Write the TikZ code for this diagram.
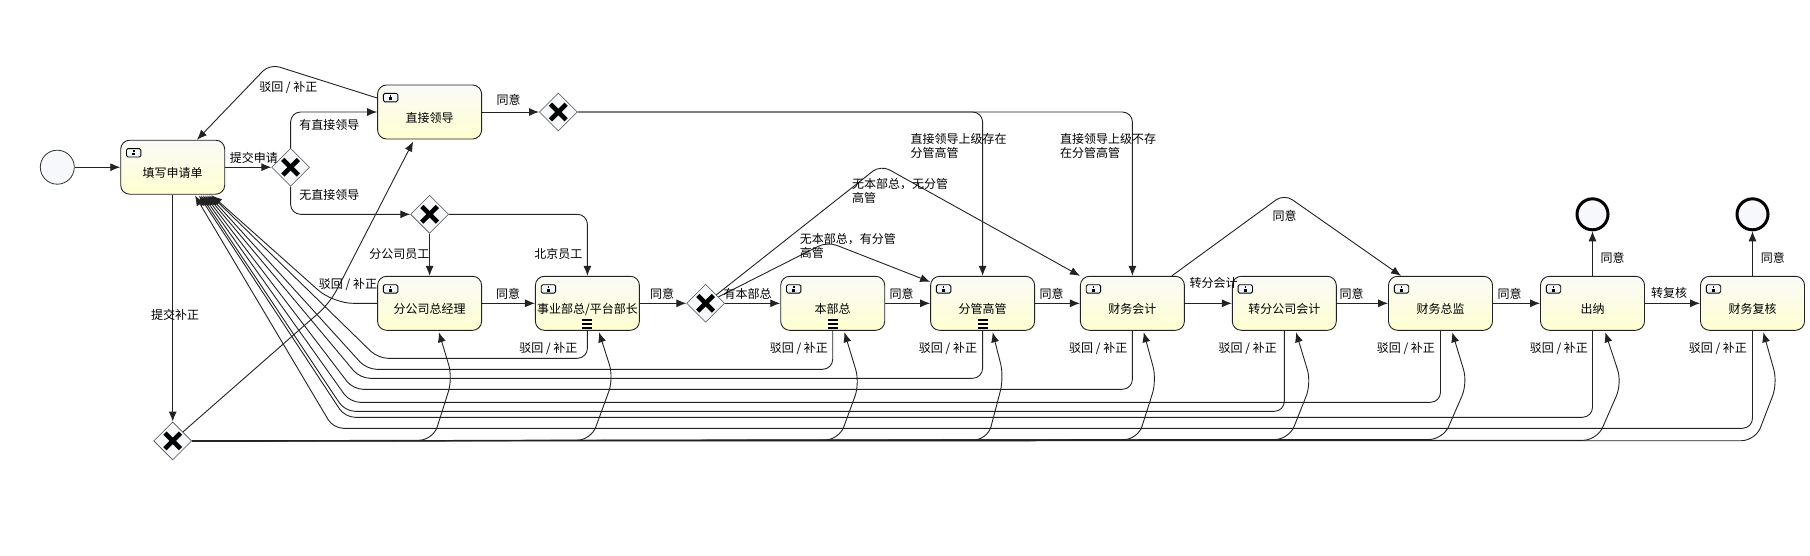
\documentclass[tikz,border=0pt]{standalone}
\usepackage{fontspec}
\setmainfont{Noto Sans CJK SC}
\usetikzlibrary{shapes.geometric, shapes.misc, arrows.meta}
\definecolor{tasktop}{HTML}{FAFAF8}
\definecolor{taskbot}{HTML}{FFFFD0}
\definecolor{iconblue}{HTML}{BBDDF2}
\definecolor{evfill}{HTML}{F7F8FB}
\definecolor{edge}{HTML}{222222}
\newcommand{\taskicon}{%
    \draw [black, line width=0.9pt, rounded corners=1.5pt, top color=white, bottom color=iconblue]
        ([shift={(5.8pt,-8.4pt)}]path picture bounding box.north west) rectangle
        ([shift={(20.2pt,-16.8pt)}]path picture bounding box.north west);
    \fill [black, sharp corners] ([shift={(12.2pt,-10pt)}]path picture bounding box.north west) rectangle
        ([shift={(13.8pt,-11.5pt)}]path picture bounding box.north west);
    \fill [black, sharp corners] ([shift={(11.6pt,-12.3pt)}]path picture bounding box.north west) rectangle
        ([shift={(14.4pt,-15.2pt)}]path picture bounding box.north west);}
\newcommand{\taskbars}{%
    \fill [black, sharp corners] ([shift={(-5pt,11pt)}]path picture bounding box.south) rectangle ([shift={(5pt,9pt)}]path picture bounding box.south);
    \fill [black, sharp corners] ([shift={(-5pt,7pt)}]path picture bounding box.south) rectangle ([shift={(5pt,5pt)}]path picture bounding box.south);
    \fill [black, sharp corners] ([shift={(-5pt,3pt)}]path picture bounding box.south) rectangle ([shift={(5pt,1pt)}]path picture bounding box.south);}
\tikzstyle{block} = [rectangle, draw=edge, line width=0.9pt, rounded corners=9pt,
    top color=tasktop, bottom color=taskbot, inner sep=0pt, text centered,
    text height=22pt, text depth=2pt, minimum height=54pt, minimum width=104pt,
    path picture={\taskicon}]
\tikzstyle{multi} = [block, path picture={\taskicon\taskbars}]
\tikzstyle{gate} = [diamond, draw=black!70, line width=0.6pt, fill=evfill, aspect=1,
    inner sep=0pt, minimum width=38pt, minimum height=38pt]
\tikzstyle{cross} = [cross out, draw=black, line width=4.6pt, inner sep=0pt, minimum size=11pt]
\tikzstyle{startev} = [circle, draw=black!80, line width=0.8pt, fill=evfill, inner sep=0pt, minimum size=34pt]
\tikzstyle{endev} = [circle, draw=black, line width=3pt, fill=evfill, inner sep=0pt, minimum size=31pt]
\tikzstyle{line} = [draw=edge, line width=0.9pt, -{Latex[length=10pt,width=8pt]}]
\tikzstyle{tag} = [inner sep=0pt, text height=13.5pt, text depth=3pt]
\tikzstyle{note} = [inner sep=0pt, align=left, anchor=north west]

\begin{document}
\begin{tikzpicture}[x=1pt, y=-1pt, font=\fontsize{12}{14}\selectfont]

    \useasboundingbox (0,0) rectangle (1810,555);

    \node [startev] (start) at (57.3,167.2) {};
    \node [block, right of=start, node distance=115.4pt] (form) {填写申请单};
    \node [gate, right of=form, node distance=117.9pt] (gwsubmit) {};
    \node [gate, below of=form, node distance=273.7pt] (gwfix) {};
    \node [block] (lead) at (429.6,112) {直接领导};
    \node [gate, right of=lead, node distance=128.7pt] (gwlead) {};
    \node [gate, below of=lead, node distance=102.3pt] (gwstaff) {};
    \node [block, below of=lead, node distance=191.3pt] (mgr) {分公司总经理};
    \node [multi, right of=mgr, node distance=157.8pt] (bu) {事业部总/平台部长};
    \node [gate, right of=bu, node distance=118.2pt] (gwdept) {};
    \node [multi, right of=gwdept, node distance=127.1pt] (dept) {本部总};
    \node [multi, right of=dept, node distance=149.9pt] (exec) {分管高管};
    \node [block, right of=exec, node distance=149.8pt] (acct) {财务会计};
    \node [block, right of=acct, node distance=151.9pt] (tacct) {转分公司会计};
    \node [block, right of=tacct, node distance=156.2pt] (cfo) {财务总监};
    \node [block, right of=cfo, node distance=152pt] (cash) {出纳};
    \node [block, right of=cash, node distance=160pt] (check) {财务复核};
    \node [endev, above of=cash, node distance=89pt] (endcash) {};
    \node [endev, above of=check, node distance=89pt] (endcheck) {};

    \node [cross] (xsubmit) at (gwsubmit) {};
    \node [cross] (xfix) at (gwfix) {};
    \node [cross] (xlead) at (gwlead) {};
    \node [cross] (xstaff) at (gwstaff) {};
    \node [cross] (xdept) at (gwdept) {};

    % main flow
    \path [line] (start) -- (form);
    \path [line] (form) -- (gwsubmit);
    \path [line] (form) -- (gwfix);
    \path [line, rounded corners=10pt] (gwsubmit.north) |- (lead.west);
    \path [line, rounded corners=10pt] (gwsubmit.south) |- (gwstaff.west);
    \path [line] (lead) -- (gwlead);
    \path [line] (gwstaff) -- (mgr);
    \path [line, rounded corners=10pt] (gwstaff.east) -| (bu.north);
    \path [line] (mgr) -- (bu);
    \path [line] (bu) -- (gwdept);
    \path [line] (gwdept) -- (dept);
    \path [line] (dept) -- (exec);
    \path [line] (exec) -- (acct);
    \path [line] (acct) -- (tacct);
    \path [line] (tacct) -- (cfo);
    \path [line] (cfo) -- (cash);
    \path [line] (cash) -- (check);
    \path [line] (cash) -- (endcash);
    \path [line] (check) -- (endcheck);
    \path [line, rounded corners=10pt] (gwlead.east) -| (exec.north);
    \path [line, rounded corners=10pt] (gwlead.east) -| (acct.north);
    \path [line, rounded corners=10pt] (gwdept) -- (827.4,241.7) -- ([yshift=-6pt]exec.north west);
    \path [line, rounded corners=10pt] (gwdept) -- (880.7,165) -- (acct.north west);
    \path [line, rounded corners=10pt] ([xshift=-13pt]acct.north east) -- (1284.1,194) -- ([xshift=13pt]cfo.north west);
    \path [line, rounded corners=10pt] ([yshift=14pt]lead.west) -- (269.7,64) -- ([xshift=24.3pt]form.north);
    \path [line, rounded corners=15pt] (gwfix) -- (330,303) -- ([shift={(-16.4pt,-2pt)}]lead.south);

    % sent back to the form
    \path [line, rounded corners=20pt] (mgr.west) -- (333,303.3) -- (212,195.5);
    \path [line] (bu.south) [rounded corners=10pt] |- (378,358.3) [rounded corners=20pt] -- (211,195.5);
    \path [line] (dept.south) [rounded corners=10pt] |- (366.7,369.3) [rounded corners=20pt] -- (209,195.5);
    \path [line] (exec.south) [rounded corners=10pt] |- (360,378.3) [rounded corners=20pt] -- (207,195.5);
    \path [line] (acct.south) [rounded corners=10pt] |- (353,389.3) [rounded corners=20pt] -- (205,195.5);
    \path [line] (cfo.south) [rounded corners=10pt] |- (350,402.3) [rounded corners=20pt] -- (203,195.5);
    \path [line] (tacct.south) [rounded corners=10pt] |- (345,411.3) [rounded corners=20pt] -- (201,195.5);
    \path [line] (cash.south) [rounded corners=10pt] |- (345,417.3) [rounded corners=20pt] -- (199,195.5);
    \path [line] (check.south) [rounded corners=10pt] |- (333.3,428.3) [rounded corners=20pt] -- (195,195.5);

    % resubmitted from the fix gateway
    \path [line, rounded corners=14pt] (gwfix.east) -- (433,440.2) -- (452.7,378) -- ([shift={(9.3pt,-1.5pt)}]mgr.south);
    \path [line, rounded corners=14pt] (gwfix.east) -- (591,440.2) -- (613.7,378) -- ([shift={(11.6pt,-1.5pt)}]bu.south);
    \path [line, rounded corners=14pt] (gwfix.east) -- (839,440) -- (859.8,383) -- ([shift={(11.7pt,-1.5pt)}]dept.south);
    \path [line, rounded corners=14pt] (gwfix.east) -- (987.5,440) -- (1004,377) -- ([shift={(10pt,-1.5pt)}]exec.south);
    \path [line, rounded corners=14pt] (gwfix.east) -- (1137.8,439.6) -- (1156.7,380) -- ([shift={(11.3pt,-1.5pt)}]acct.south);
    \path [line, rounded corners=14pt] (gwfix.east) -- (1288.9,439.5) -- (1311.4,383) -- ([shift={(11.7pt,-1.5pt)}]tacct.south);
    \path [line, rounded corners=14pt] (gwfix.east) -- (1443,439.5) -- (1467.6,383) -- ([shift={(11.7pt,-1.5pt)}]cfo.south);
    \path [line, rounded corners=14pt] (gwfix.east) -- (1597,440.3) -- (1622,383) -- ([shift={(12.7pt,-1.5pt)}]cash.south);
    \path [line, rounded corners=14pt] (gwfix.east) -- (1755.4,440.7) -- (1777.6,383) -- ([shift={(10.8pt,-1.5pt)}]check.south);

    % edge labels
    \node [tag] (lsubmit) at (253.9,157.3) {提交申请};
    \node [tag] (lhas) at (329.4,124) {有直接领导};
    \node [tag] (lnone) at (329.4,194) {无直接领导};
    \node [tag] (lfix) at (175.2,314.3) {提交补正};
    \node [tag] (lbranch) at (399.4,253) {分公司员工};
    \node [tag] (lbeijing) at (558.3,253) {北京员工};
    \node [tag] (lhasdept) at (747.5,293.3) {有本部总};
    \node [tag] (ltrans) at (1213.7,282.7) {转分会计};
    \node [tag] (lreview) at (1669.2,292.7) {转复核};
    \node [tag] (ok1) at (508.5,99.3) {同意};
    \node [tag] (ok2) at (508.1,293.3) {同意};
    \node [tag] (ok3) at (662,293.3) {同意};
    \node [tag] (ok4) at (901.7,293.3) {同意};
    \node [tag] (ok5) at (1051.6,293.3) {同意};
    \node [tag] (ok6) at (1351.7,293.3) {同意};
    \node [tag] (ok7) at (1509.5,293.3) {同意};
    \node [tag] (ok8) at (1612.7,257.3) {同意};
    \node [tag] (ok9) at (1772.8,257.3) {同意};
    \node [tag] (ok10) at (1284.5,215) {同意};
    \node [tag] (back1) at (288.3,86) {驳回 / 补正};
    \node [tag] (back2) at (348,283.3) {驳回 / 补正};
    \node [tag] (back3) at (548.4,347.3) {驳回 / 补正};
    \node [tag] (back4) at (798.9,347.3) {驳回 / 补正};
    \node [tag] (back5) at (948,347.3) {驳回 / 补正};
    \node [tag] (back6) at (1098.2,347.3) {驳回 / 补正};
    \node [tag] (back7) at (1247.7,347.3) {驳回 / 补正};
    \node [tag] (back8) at (1405.9,347.3) {驳回 / 补正};
    \node [tag] (back9) at (1558.9,347.3) {驳回 / 补正};
    \node [tag] (back10) at (1717.9,347.3) {驳回 / 补正};
    \node [note] (nup) at (910.4,133) {直接领导上级存在\\分管高管};
    \node [note] (nnoup) at (1059.9,133) {直接领导上级不存\\在分管高管};
    \node [note] (nexec) at (799.7,233.5) {无本部总，有分管\\高管};
    \node [note] (nnoexec) at (851.9,178) {无本部总，无分管\\高管};

\end{tikzpicture}
\end{document}
